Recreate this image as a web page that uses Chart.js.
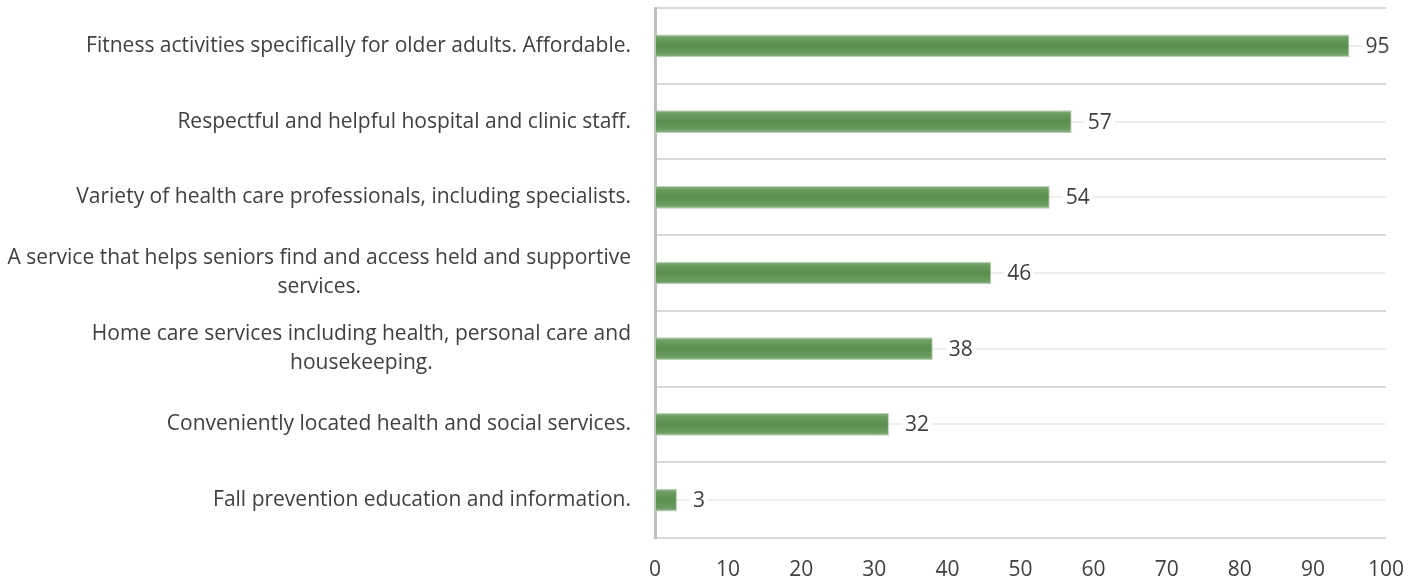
<!DOCTYPE html>
<html>
<head>
<meta charset="utf-8">
<script src="https://cdn.jsdelivr.net/npm/chart.js@4"></script>
<style>
  html, body { margin: 0; padding: 0; background: #fff; }
  canvas { display: block; }
</style>
</head>
<body>
<canvas id="chart" width="1421" height="582"></canvas>
<script>
const categories = [
  ["Fitness activities specifically for older adults. Affordable."],
  ["Respectful and helpful hospital and clinic staff."],
  ["Variety of health care professionals, including specialists."],
  ["A service that helps seniors find and access held and supportive", "services."],
  ["Home care services including health, personal care and", "housekeeping."],
  ["Conveniently located health and social services."],
  ["Fall prevention education and information."]
];
const values = [95, 57, 54, 46, 38, 32, 3];
const xTicks = [0, 10, 20, 30, 40, 50, 60, 70, 80, 90, 100];

const FONT = "'Open Sans', sans-serif";
const TEXT = "#404040";

// category labels: block right-aligned, lines centred inside the block
const labelPlugin = {
  id: "catLabels",
  afterDraw(chart) {
    const ctx = chart.ctx;
    const y = chart.scales.y;
    ctx.save();
    ctx.font = "21px " + FONT;
    ctx.fillStyle = TEXT;
    ctx.textBaseline = "middle";
    ctx.textAlign = "center";
    const right = 631, lh = 29;
    categories.forEach((lines, i) => {
      const maxW = Math.max(...lines.map(l => ctx.measureText(l).width));
      const cx = right - maxW / 2;
      const cy = y.getPixelForValue(i);
      const y0 = cy - (lines.length - 1) * lh / 2;
      lines.forEach((l, k) => ctx.fillText(l, cx, y0 + k * lh));
    });
    ctx.restore();
  }
};

// value labels at the bar ends
const valuePlugin = {
  id: "valueLabels",
  afterDatasetsDraw(chart) {
    const ctx = chart.ctx;
    const meta = chart.getDatasetMeta(0);
    ctx.save();
    ctx.font = "21px " + FONT;
    ctx.textBaseline = "middle";
    ctx.textAlign = "left";
    meta.data.forEach((bar, i) => {
      const txt = String(values[i]);
      const x = bar.x + 16, w = ctx.measureText(txt).width;
      ctx.fillStyle = "#fff";
      ctx.fillRect(x - 3, bar.y - 13, w + 6, 26);
      ctx.fillStyle = TEXT;
      ctx.fillText(txt, x, bar.y + 1);
    });
    ctx.restore();
  }
};

function barFill(c) {
  const chart = c.chart;
  const y = chart.scales.y;
  if (!y || c.dataIndex === undefined) return "#5b904f";
  const cy = y.getPixelForValue(c.dataIndex);
  if (!isFinite(cy)) return "#5b904f";
  const g = chart.ctx.createLinearGradient(0, cy - 12, 0, cy + 12);
  g.addColorStop(0, "#9cbd95");
  g.addColorStop(0.18, "#6a9c5f");
  g.addColorStop(0.5, "#5a8f4e");
  g.addColorStop(0.82, "#6a9c5f");
  g.addColorStop(1, "#9cbd95");
  return g;
}

new Chart(document.getElementById("chart"), {
  type: "bar",
  data: {
    labels: categories,
    datasets: [{
      data: values,
      backgroundColor: barFill,
      borderColor: "#b8cfb3",
      borderWidth: 1,
      borderSkipped: false,
      barPercentage: 0.3,
      categoryPercentage: 1
    }]
  },
  options: {
    indexAxis: "y",
    responsive: false,
    animation: false,
    layout: { padding: { top: 8, right: 35, left: 0, bottom: 0 } },
    plugins: { legend: { display: false }, tooltip: { enabled: false } },
    scales: {
      x: {
        min: 0, max: 100,
        afterBuildTicks(s) { s.ticks = xTicks.map(v => ({ value: v })); },
        ticks: { color: TEXT, font: { family: FONT, size: 21 }, padding: 11 },
        grid: { display: false },
        border: { display: false },
        afterFit(s) { s.height = 44; }
      },
      y: {
        offset: true,
        ticks: { display: false },
        grid: { offset: true, color: "#d9d9d9", lineWidth: 2, drawTicks: false },
        border: { color: "#bfbfbf", width: 3 },
        afterFit(s) { s.width = 655; }
      },
      y2: {
        type: "category",
        labels: categories,
        position: "left",
        offset: true,
        ticks: { display: false },
        grid: { offset: false, color: "#eeeeee", lineWidth: 2, drawTicks: false },
        border: { display: false },
        afterFit(s) { s.width = 0; }
      }
    }
  },
  plugins: [labelPlugin, valuePlugin]
});
</script>
</body>
</html>
